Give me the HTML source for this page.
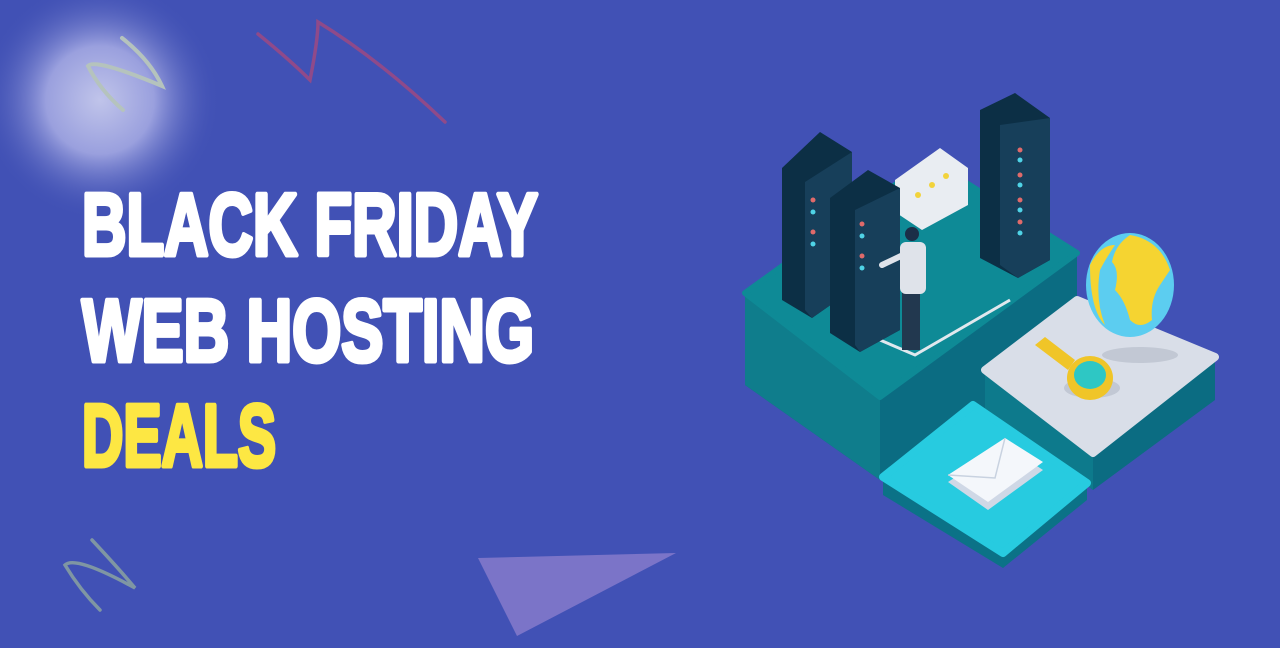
<!DOCTYPE html>
<html><head><meta charset="utf-8"><style>
html,body{margin:0;padding:0;width:1280px;height:648px;overflow:hidden;background:#4151b5}
svg{display:block}
</style></head><body>
<svg width="1280" height="648" viewBox="0 0 1280 648" xmlns="http://www.w3.org/2000/svg">
<defs>
<radialGradient id="glow" cx="0.5" cy="0.5" r="0.5">
<stop offset="0" stop-color="#c0c4ea"/><stop offset="0.45" stop-color="#9aa0de"/><stop offset="1" stop-color="#4151b5" stop-opacity="0"/>
</radialGradient>
</defs>
<rect width="1280" height="648" fill="#4151b5"/>
<circle cx="100" cy="100" r="120" fill="url(#glow)"/>
<path d="M122 38 Q150 60 162 86 Q95 58 88 66 Q100 90 123 110" fill="none" stroke="#b5c3bd" stroke-width="4" stroke-linecap="round"/>
<path d="M258 34 Q290 60 310 80 Q318 40 318 22 Q380 60 445 122" fill="none" stroke="#8f4a8a" stroke-width="3.5" stroke-linecap="round"/>
<path d="M92 540 Q120 570 135 588 Q75 555 65 565 Q80 590 100 610" fill="none" stroke="#7f96a3" stroke-width="3.5" stroke-linecap="round"/>
<polygon points="478,558 676,553 517,636" fill="#7b74c8"/>
<g font-family="'Liberation Sans Narrow','Liberation Sans',sans-serif" font-weight="bold" font-size="88" stroke-width="5" stroke-linejoin="round">
<text x="82" y="255" fill="#fff" stroke="#fff" textLength="456" lengthAdjust="spacingAndGlyphs">BLACK FRIDAY</text>
<text x="82" y="361" fill="#fff" stroke="#fff" textLength="452" lengthAdjust="spacingAndGlyphs">WEB HOSTING</text>
<text x="82" y="466" fill="#fde743" stroke="#fde743" textLength="194" lengthAdjust="spacingAndGlyphs">DEALS</text>
</g>
<!-- main platform -->
<polygon points="745,293 745,385 880,480 985,410 1077,300 1077,253" fill="#0b6c82"/>
<polygon points="745,293 880,397 880,480 745,385" fill="#0f7d8c"/>
<polygon points="745,293 930,160 1077,253 880,397" fill="#0e8a96" stroke="#0e8a96" stroke-width="6" stroke-linejoin="round"/>
<polyline points="880,340 915,355 1010,300" fill="none" stroke="#e0e8ee" stroke-width="3"/>
<!-- grey platform -->
<polygon points="985,370 985,410 1093,490 1215,400 1215,357" fill="#0b6c82"/>
<polygon points="985,370 1093,453 1093,490 985,410" fill="#0d7a8c"/>
<polygon points="985,370 1077,300 1215,357 1093,453" fill="#d9dee8" stroke="#d9dee8" stroke-width="8" stroke-linejoin="round"/>
<!-- cyan platform -->
<polygon points="883,477 883,495 1003,568 1087,500 1087,483" fill="#0b7287"/>
<polygon points="883,477 973,405 1087,483 1003,553" fill="#27cbe0" stroke="#27cbe0" stroke-width="8" stroke-linejoin="round"/>
<!-- envelope -->
<polygon points="948,482 1005,445 1043,470 988,510" fill="#cfd8e6"/>
<polygon points="948,475 1005,438 1043,462 988,502" fill="#f4f7fb"/>
<polyline points="948,475 995,478 1005,438" fill="none" stroke="#c8d2e0" stroke-width="1.5"/>
<!-- servers -->
<g>
<polygon points="782,168 820,132 852,152 852,290 812,318 782,300" fill="#0c2f45"/>
<polygon points="805,182 852,152 852,290 812,318 805,310" fill="#173f5a"/>
<polygon points="980,110 1015,93 1050,118 1050,260 1018,278 980,258" fill="#0c2f45"/>
<polygon points="1000,125 1050,118 1050,260 1018,278 1000,265" fill="#173f5a"/>
<polygon points="895,180 940,148 968,168 968,205 922,230 895,212" fill="#e9edf2"/>
<polygon points="830,198 868,170 900,188 900,330 860,352 830,333" fill="#0c2f45"/>
<polygon points="855,210 900,188 900,330 860,352 855,345" fill="#173f5a"/>
</g>
<g fill="#e06a6a"><circle cx="813" cy="200" r="2.5"/><circle cx="813" cy="232" r="2.5"/><circle cx="862" cy="224" r="2.5"/><circle cx="862" cy="256" r="2.5"/><circle cx="1020" cy="150" r="2.5"/><circle cx="1020" cy="175" r="2.5"/><circle cx="1020" cy="200" r="2.5"/><circle cx="1020" cy="222" r="2.5"/></g>
<g fill="#4fd3e6"><circle cx="813" cy="212" r="2.5"/><circle cx="813" cy="244" r="2.5"/><circle cx="862" cy="236" r="2.5"/><circle cx="862" cy="268" r="2.5"/><circle cx="1020" cy="160" r="2.5"/><circle cx="1020" cy="185" r="2.5"/><circle cx="1020" cy="210" r="2.5"/><circle cx="1020" cy="233" r="2.5"/></g>
<g fill="#f2d33c"><circle cx="918" cy="195" r="3"/><circle cx="932" cy="185" r="3"/><circle cx="946" cy="176" r="3"/></g>
<!-- person -->
<rect x="902" y="290" width="18" height="60" fill="#22384f"/>
<rect x="900" y="242" width="26" height="52" rx="6" fill="#dfe3ea"/>
<circle cx="912" cy="234" r="7" fill="#1b2f48"/>
<line x1="903" y1="255" x2="882" y2="265" stroke="#dfe3ea" stroke-width="6" stroke-linecap="round"/>
<!-- globe -->
<ellipse cx="1140" cy="355" rx="38" ry="8" fill="#b8bfcc" opacity="0.7"/>
<ellipse cx="1130" cy="285" rx="44" ry="52" fill="#5ccdf0"/>
<path d="M1130 235 Q1160 240 1170 270 L1160 285 Q1150 300 1152 320 Q1140 330 1130 320 Q1125 300 1115 290 Q1120 270 1112 262 Q1115 245 1130 235Z" fill="#f5d431"/>
<path d="M1090 265 Q1100 245 1115 245 Q1105 260 1100 270 Q1095 300 1105 325 Q1090 310 1090 265Z" fill="#f5d431"/>
<!-- magnifier -->
<ellipse cx="1092" cy="388" rx="28" ry="10" fill="#b8bfcc" opacity="0.7"/>
<polygon points="1035,345 1045,337 1075,360 1068,370" fill="#f0c528"/>
<ellipse cx="1090" cy="378" rx="23" ry="22" fill="#f0c528"/>
<ellipse cx="1090" cy="375" rx="16" ry="14" fill="#2ec7c4"/>
</svg>
</body></html>
